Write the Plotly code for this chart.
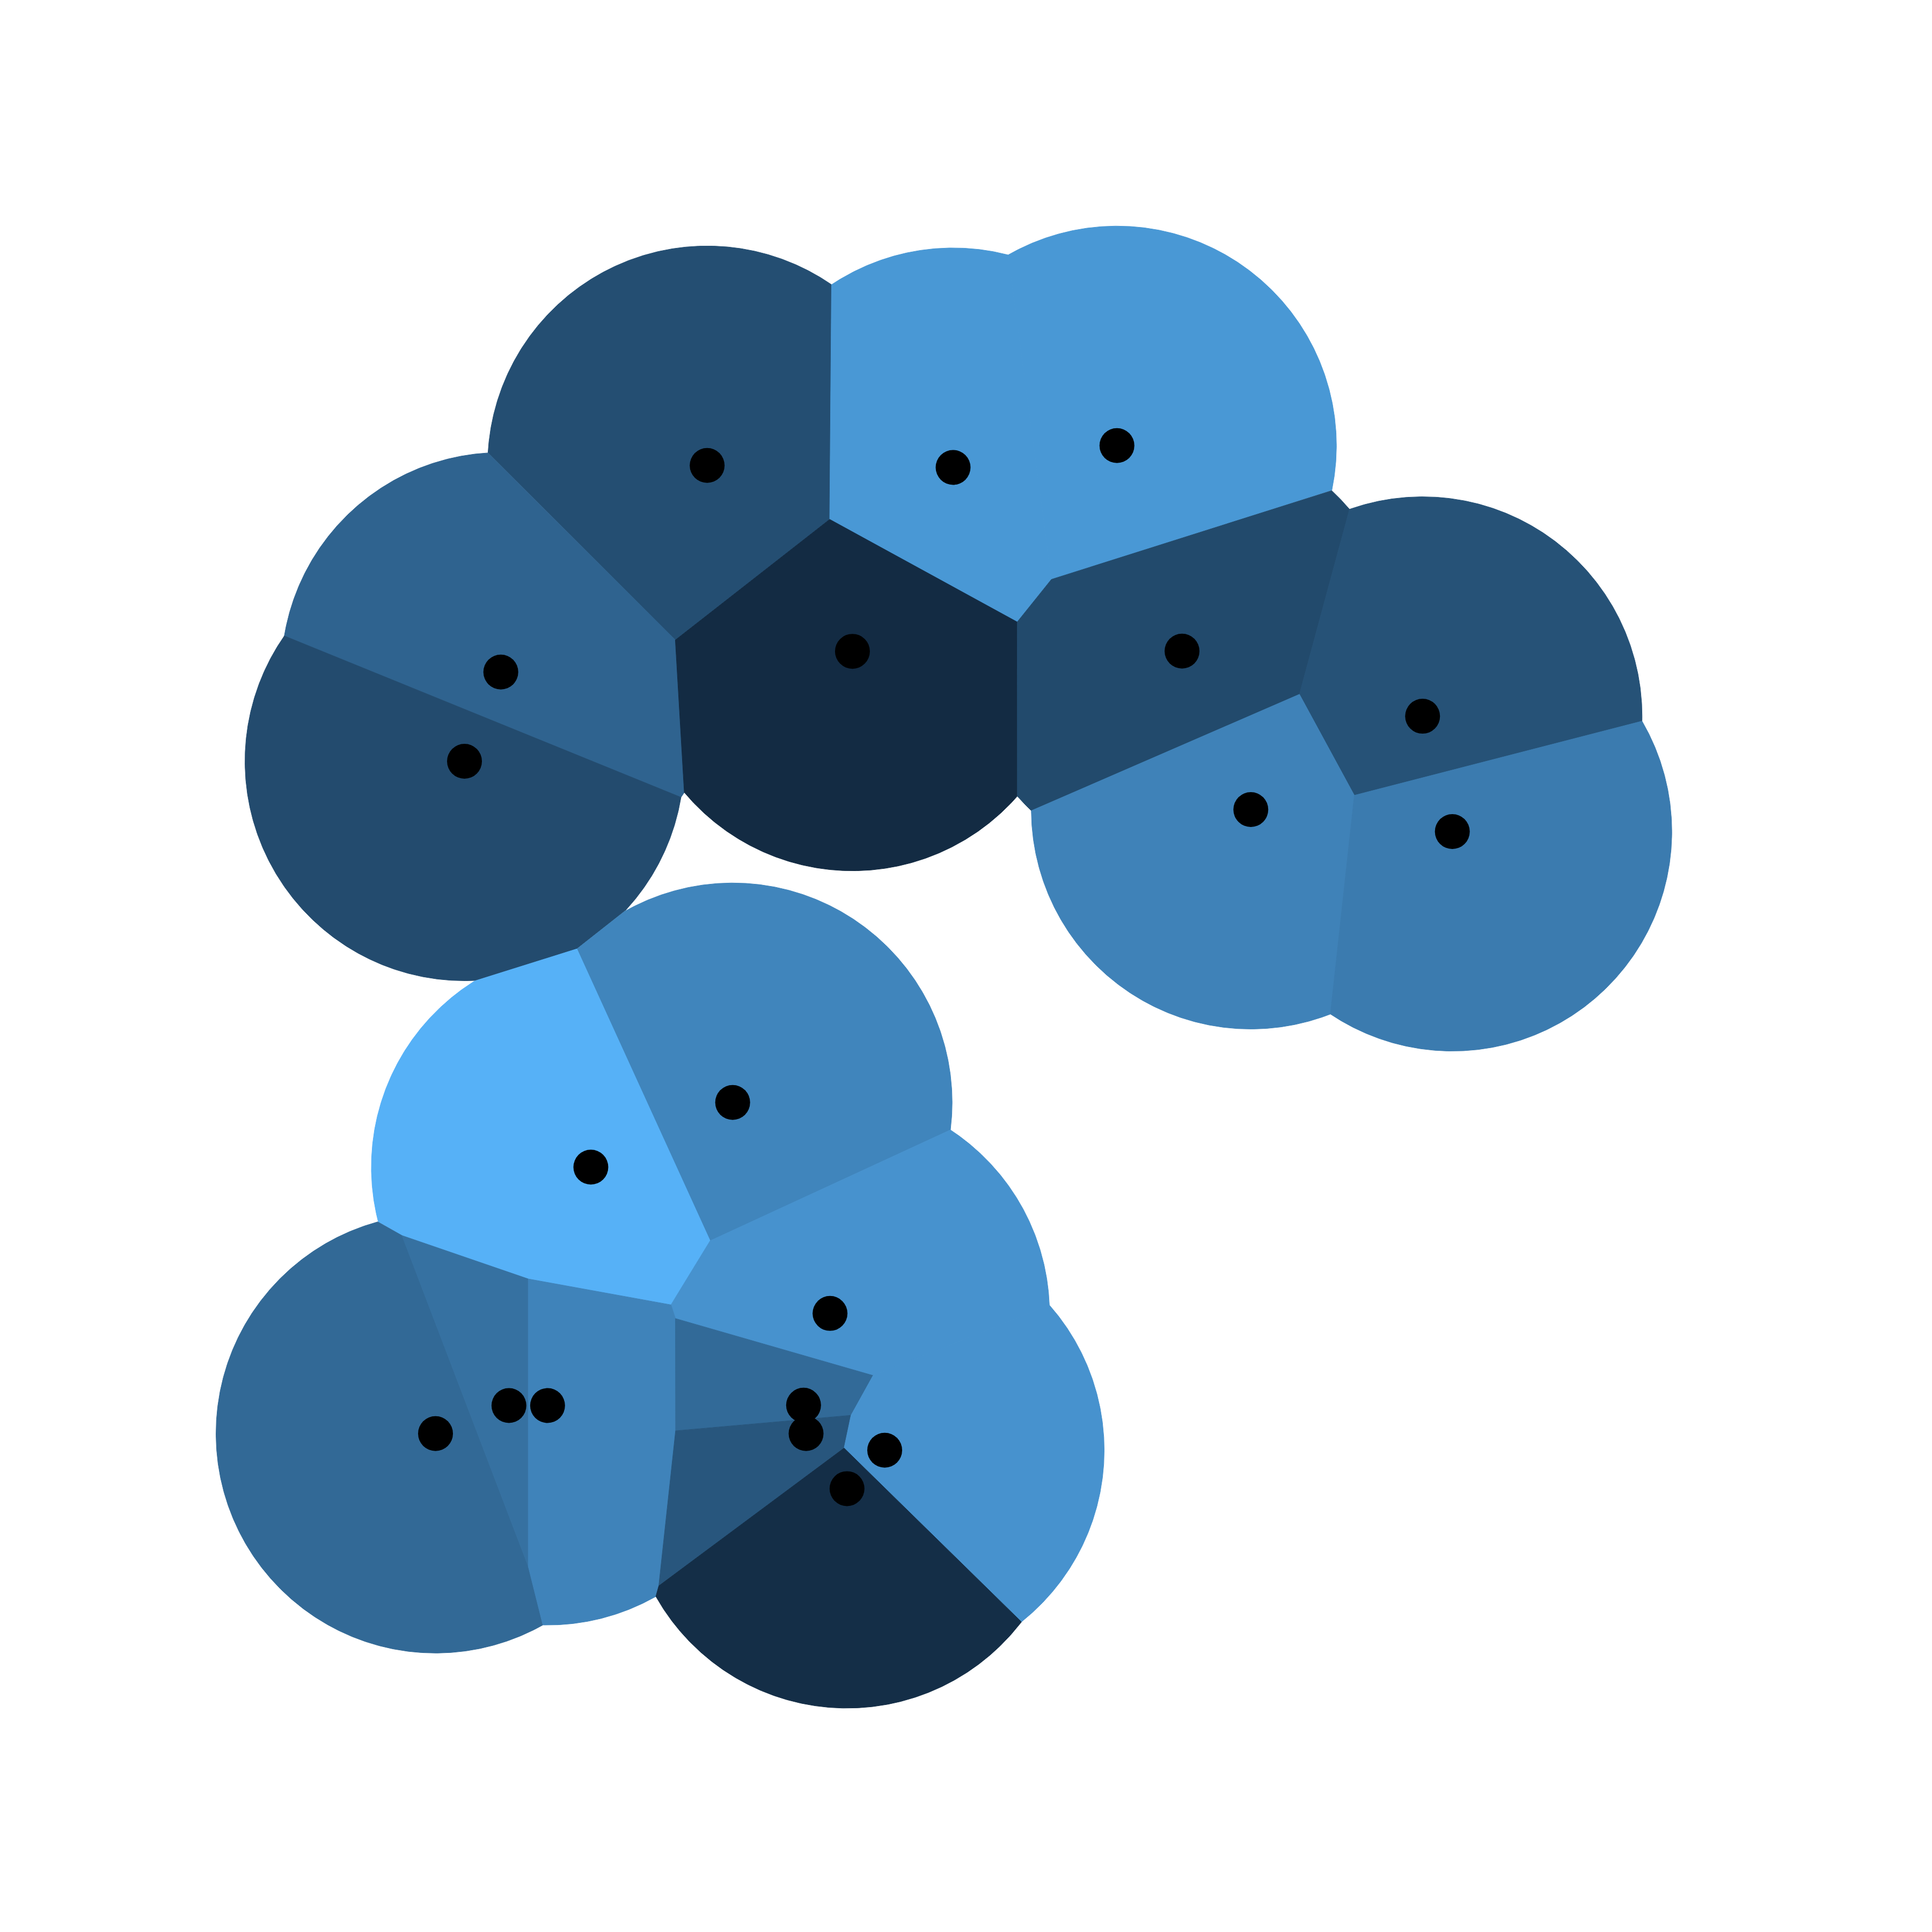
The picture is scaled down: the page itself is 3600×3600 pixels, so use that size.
import numpy as np
import plotly.graph_objects as go
from plotly.colors import sample_colorscale

# Site coordinates (data units, 0-100 frame)
site_x = [36.38, 49.11, 57.59, 25.70, 23.82, 43.90, 60.96, 73.41, 64.52, 74.95,
          37.70, 30.36, 42.74, 22.32, 26.12, 28.12, 41.37, 41.50, 45.57, 43.62]
site_y = [76.13, 76.03, 77.16, 65.44, 60.82, 66.51, 66.52, 63.15, 58.32, 57.18,
          43.16, 39.81, 32.24, 26.02, 27.47, 27.47, 27.49, 26.02, 25.16, 23.17]
# Fill value of each Voronoi cell (0 = darkest, 1 = lightest)
fill_value = [0.26, 0.81, 0.81, 0.42, 0.24, 0.00, 0.23, 0.29, 0.65, 0.60,
              0.67, 1.00, 0.77, 0.46, 0.52, 0.66, 0.47, 0.32, 0.77, 0.02]

max_radius = 11.36
low_color, high_color = "#132B43", "#56B1F7"


def clip_halfplane(poly, a, b, c):
    """Keep part of polygon where a*x + b*y <= c."""
    out = []
    n = len(poly)
    for k in range(n):
        p = poly[k]
        q = poly[(k + 1) % n]
        fp = a * p[0] + b * p[1] - c
        fq = a * q[0] + b * q[1] - c
        if fp <= 0:
            out.append(p)
        if (fp < 0 < fq) or (fq < 0 < fp):
            t = fp / (fp - fq)
            out.append((p[0] + t * (q[0] - p[0]), p[1] + t * (q[1] - p[1])))
    return out


colors = sample_colorscale([[0, low_color], [1, high_color]], fill_value)

fig = go.Figure()
theta = np.linspace(0, 2 * np.pi, 1440, endpoint=False)
for i, (xi, yi) in enumerate(zip(site_x, site_y)):
    poly = list(zip(xi + max_radius * np.cos(theta), yi + max_radius * np.sin(theta)))
    for j, (xj, yj) in enumerate(zip(site_x, site_y)):
        if i == j:
            continue
        a, b = xj - xi, yj - yi
        mx, my = (xi + xj) / 2, (yi + yj) / 2
        poly = clip_halfplane(poly, a, b, a * mx + b * my)
        if not poly:
            break
    if not poly:
        continue
    px = [p[0] for p in poly] + [poly[0][0]]
    py = [p[1] for p in poly] + [poly[0][1]]
    fig.add_trace(go.Scatter(
        x=px, y=py, mode="lines", fill="toself",
        fillcolor=colors[i], line=dict(color=colors[i], width=1),
        hoverinfo="skip", showlegend=False))

fig.add_trace(go.Scatter(
    x=site_x, y=site_y, mode="markers",
    marker=dict(size=65, color="black", line=dict(width=0)),
    showlegend=False, hoverinfo="skip"))

fig.update_layout(
    width=3600, height=3600,
    margin=dict(l=0, r=0, t=0, b=0),
    paper_bgcolor="white", plot_bgcolor="white",
    xaxis=dict(range=[0, 100], visible=False, fixedrange=True),
    yaxis=dict(range=[0, 100], visible=False, fixedrange=True),
)

fig.write_html("out.html")
